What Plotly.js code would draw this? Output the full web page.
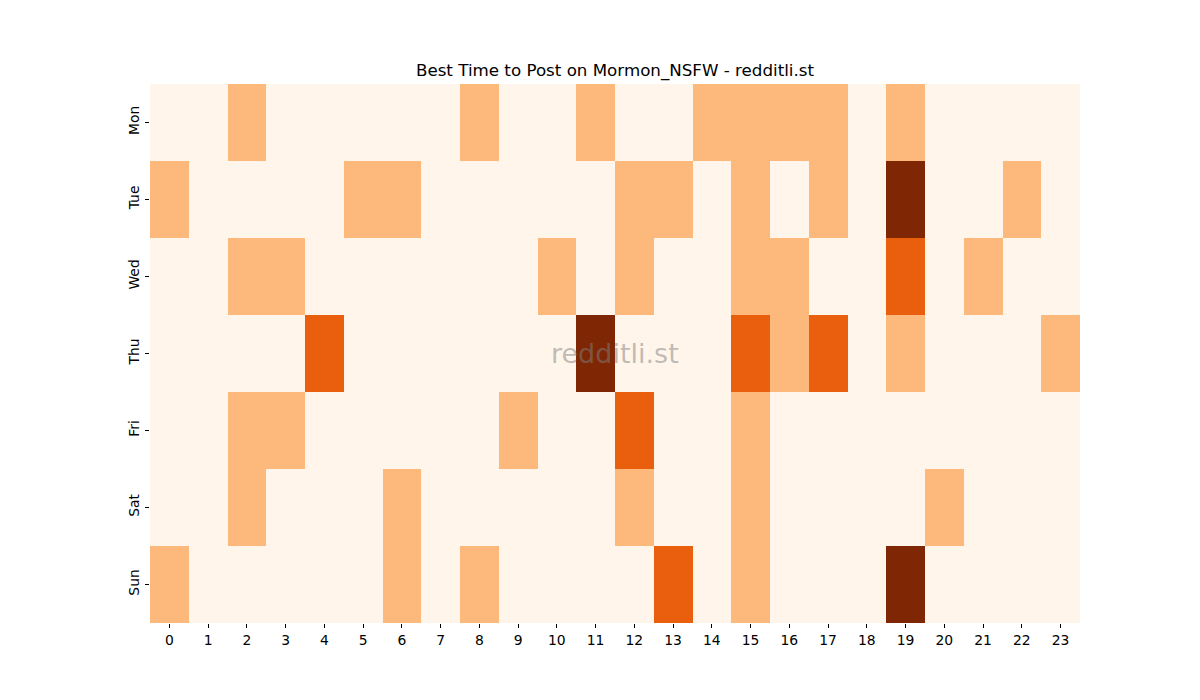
<!DOCTYPE html>
<html>
<head>
<meta charset="utf-8">
<script src="https://cdn.plot.ly/plotly-3.0.1.min.js"></script>
<style>html,body{margin:0;padding:0;background:#fff;}#chart{width:1200px;height:700px;}</style>
</head>
<body>
<div id="chart"></div>
<script>
const hours = ["0","1","2","3","4","5","6","7","8","9","10","11","12","13","14","15","16","17","18","19","20","21","22","23"];
const days = ["Mon","Tue","Wed","Thu","Fri","Sat","Sun"];
const mon = [0,0,1,0,0,0,0,0,1,0,0,1,0,0,1,1,1,1,0,1,0,0,0,0];
const tue = [1,0,0,0,0,1,1,0,0,0,0,0,1,1,0,1,0,1,0,3,0,0,1,0];
const wed = [0,0,1,1,0,0,0,0,0,0,1,0,1,0,0,1,1,0,0,2,0,1,0,0];
const thu = [0,0,0,0,2,0,0,0,0,0,0,3,0,0,0,2,1,2,0,1,0,0,0,1];
const fri = [0,0,1,1,0,0,0,0,0,1,0,0,2,0,0,1,0,0,0,0,0,0,0,0];
const sat = [0,0,1,0,0,0,1,0,0,0,0,0,1,0,0,1,0,0,0,0,1,0,0,0];
const sun = [1,0,0,0,0,0,1,0,1,0,0,0,0,2,0,1,0,0,0,3,0,0,0,0];
const zData = [mon, tue, wed, thu, fri, sat, sun];

const trace = {
  type: 'heatmap',
  x: hours,
  y: days,
  z: zData,
  zmin: 0,
  zmax: 3,
  colorscale: [[0,'#fff5eb'],[0.3333,'#fdb87c'],[0.6667,'#ea5f0e'],[1,'#7f2704']],
  showscale: false,
  hoverongaps: false,
  xgap: 0, ygap: 0
};

const layout = {
  width: 1200, height: 700,
  margin: {l:150, r:120, t:84, b:77},
  paper_bgcolor: '#ffffff',
  plot_bgcolor: '#ffffff',
  font: {family: 'DejaVu Sans, sans-serif', size: 13.9, color: '#000'},
  title: {text: 'Best Time to Post on Mormon_NSFW - redditli.st', xref: 'paper', x: 0.5, xanchor: 'center', yref: 'container', y: 1 - 70/700, yanchor: 'middle', font: {size: 16.7, color: '#000', family: 'DejaVu Sans, sans-serif'}},
  xaxis: {type: 'category', ticks: 'outside', ticklen: 4, tickcolor: '#000', showgrid: false, zeroline: false, showline: false, tickfont: {size: 13.9}},
  yaxis: {type: 'category', autorange: 'reversed', ticks: 'outside', ticklen: 4, tickcolor: '#000', tickangle: -90, showgrid: false, zeroline: false, showline: false, tickfont: {size: 13.9}},
  annotations: [{
    text: 'redditli.st', xref: 'paper', yref: 'paper', x: 0.5, y: 0.5,
    xanchor: 'center', yanchor: 'middle', showarrow: false,
    font: {size: 27, color: 'rgba(128,128,128,0.5)', family: 'DejaVu Sans, sans-serif'}
  }]
};

Plotly.newPlot('chart', [trace], layout, {displayModeBar: false, staticPlot: true});
</script>
</body>
</html>
